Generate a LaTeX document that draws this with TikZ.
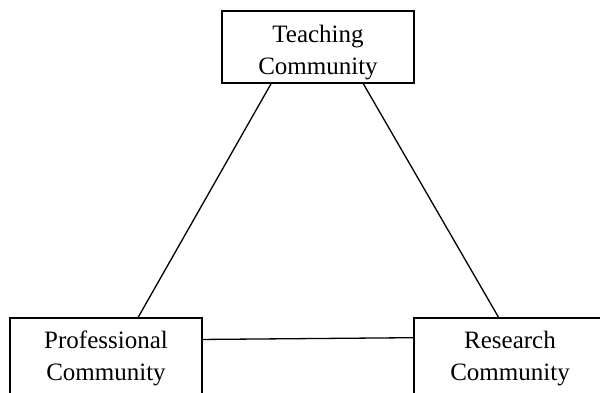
\documentclass[tikz,border=0pt]{standalone}
\usepackage{fontspec}
\setmainfont{Liberation Serif}
\usetikzlibrary{positioning}

\begin{document}
\begin{tikzpicture}[x=1pt, y=-1pt,
    community/.style={draw, line width=1.3pt, minimum width=192pt, minimum height=72pt,
        inner sep=0pt, align=center, font=\fontsize{25}{32}\selectfont,
        text height=59pt, text depth=5pt},
    lowcommunity/.style={community, minimum height=84pt, text height=45pt},
    link/.style={line width=1.3pt}]
    \useasboundingbox (0,0) rectangle (600,392);
    \node[community](teaching) at (318,47) {Teaching\\Community};
    \node[lowcommunity](professional) at (106,360) {Professional\\Community};
    \node[lowcommunity](research) at (510,360) {Research\\Community};
    \draw[link] (teaching.218) -- (professional.53.6);
    \draw[link] (teaching.321) -- (research.105.9);
    \draw[link] (professional.12.9) -- (research.167.1);
\end{tikzpicture}
\end{document}
